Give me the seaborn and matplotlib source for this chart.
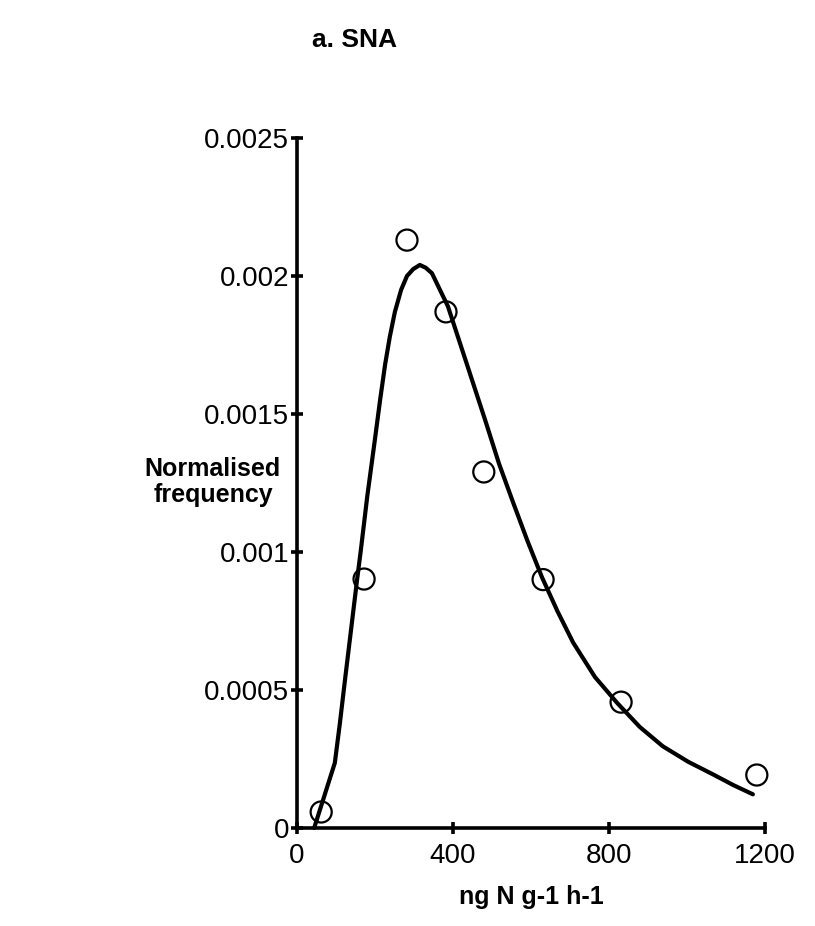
import matplotlib
matplotlib.use("Agg")
import matplotlib.pyplot as plt
import seaborn as sns
import pandas as pd

# Observed points (circles)
obs_x = [62, 172, 282, 382, 479, 631, 831, 1179]
obs_y = [0.000058, 0.000902, 0.00213, 0.00187, 0.00129, 0.0009, 0.000456, 0.000192]

# Fitted curve
curve_x = [44, 97, 110, 123, 154, 164, 180, 200, 213, 226, 238, 251, 267, 282, 298,
           315, 330, 346, 387, 438, 482, 518, 554, 591, 628, 668, 708, 764, 821, 879,
           938, 1003, 1067, 1118, 1169]
curve_y = [0.0, 0.000236, 0.000380, 0.000536, 0.000899, 0.00101, 0.00120, 0.00141,
           0.00155, 0.00168, 0.00178, 0.00187, 0.00195, 0.00200, 0.002025, 0.00204,
           0.00203, 0.00201, 0.00189, 0.00167, 0.00148, 0.00132, 0.00118, 0.00104,
           0.000909, 0.000785, 0.000672, 0.000547, 0.000453, 0.000366, 0.000296,
           0.000240, 0.000194, 0.000156, 0.000122]

x_ticks = [0, 400, 800, 1200]
y_ticks = [0, 0.0005, 0.001, 0.0015, 0.002, 0.0025]
y_tick_labels = ["0", "0.0005", "0.001", "0.0015", "0.002", "0.0025"]

sns.set_theme(style="white")
plt.rcParams['font.family'] = ['Liberation Sans', 'DejaVu Sans']
plt.rcParams['text.color'] = 'black'
plt.rcParams['axes.labelcolor'] = 'black'

fig = plt.figure(figsize=(8.15, 9.26), dpi=100)
ax = fig.add_axes([297/815, 98/926, 468/815, 690/926])

curve = pd.DataFrame({"x": curve_x, "y": curve_y})
obs = pd.DataFrame({"x": obs_x, "y": obs_y})

sns.lineplot(data=curve, x="x", y="y", ax=ax, color="black", linewidth=3, sort=False)
ax.lines[-1].set_solid_joinstyle("round")
ax.lines[-1].set_solid_capstyle("round")
sns.scatterplot(data=obs, x="x", y="y", ax=ax, marker="o", s=230,
                facecolor="none", edgecolor="black", linewidth=1.6, zorder=5)

ax.set_xlim(0, 1200)
ax.set_ylim(0, 0.0025)
ax.set_xticks(x_ticks)
ax.set_xticklabels([str(t) for t in x_ticks])
ax.set_yticks(y_ticks)
ax.set_yticklabels(y_tick_labels)

for s in ["top", "right"]:
    ax.spines[s].set_visible(False)
for s in ["left", "bottom"]:
    ax.spines[s].set_linewidth(2.6)
    ax.spines[s].set_color("black")

ax.tick_params(axis="both", which="major", direction="inout", length=9, width=2.6,
               labelsize=20, colors="black", left=True, bottom=True)
ax.tick_params(axis="y", pad=1)
ax.tick_params(axis="x", pad=6)

ax.set_xlabel("ng N g-1 h-1", fontsize=18, fontweight="bold", labelpad=12)
ax.set_ylabel("")
fig.text(213/815, 1 - 482/926, "Normalised\nfrequency", ha="center", va="center",
         fontsize=18, fontweight="bold", linespacing=1.1)
fig.text(355/815, 1 - 40/926, "a. SNA", ha="center", va="center",
         fontsize=19, fontweight="bold")

for art in ax.collections + ax.lines:
    art.set_clip_on(False)

fig.savefig("out.png", dpi=100, facecolor="white")
